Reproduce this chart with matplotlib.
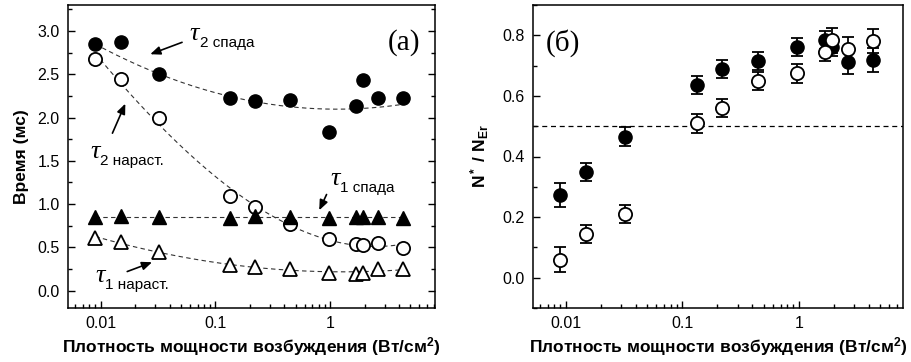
import numpy as np
import matplotlib
matplotlib.use("Agg")
import matplotlib.pyplot as plt
from matplotlib.ticker import LogLocator, FixedLocator, MultipleLocator, FuncFormatter

plt.rcParams['font.family'] = ['Liberation Sans', 'DejaVu Sans']
plt.rcParams['mathtext.fontset'] = 'custom'
plt.rcParams['mathtext.rm'] = 'Liberation Sans'
plt.rcParams['mathtext.bf'] = 'Liberation Sans:bold'
plt.rcParams['mathtext.it'] = 'Liberation Sans:italic'

# ---------------- data ----------------
power = [0.009, 0.015, 0.032, 0.135, 0.22, 0.445, 0.97, 1.68, 1.93, 2.62, 4.35]

tau2_decay = [2.85, 2.87, 2.50, 2.22, 2.19, 2.20, 1.83, 2.13, 2.43, 2.22, 2.22]
tau2_rise = [2.68, 2.45, 1.99, 1.09, 0.97, 0.77, 0.60, 0.54, 0.53, 0.55, 0.49]
tau1_decay = [0.85, 0.86, 0.85, 0.84, 0.86, 0.85, 0.84, 0.85, 0.85, 0.85, 0.84]
tau1_rise = [0.61, 0.56, 0.45, 0.30, 0.27, 0.25, 0.21, 0.19, 0.21, 0.25, 0.25]

# points read along the dashed trend curve of tau2 decay
tau2_decay_curve_x = [0.009, 0.032, 0.109, 0.297, 0.81, 1.81, 4.35]
tau2_decay_curve_y = [2.85, 2.50, 2.28, 2.15, 2.10, 2.11, 2.15]

n_filled = [0.273, 0.349, 0.466, 0.637, 0.689, 0.716, 0.762, 0.785, 0.762, 0.712, 0.718]
n_filled_err = [0.040, 0.030, 0.030, 0.030, 0.030, 0.030, 0.030, 0.030, 0.030, 0.040, 0.040]
n_open = [0.060, 0.143, 0.209, 0.509, 0.560, 0.649, 0.674, 0.746, 0.783, 0.755, 0.780]
n_open_err = [0.040, 0.030, 0.030, 0.030, 0.030, 0.030, 0.030, 0.030, 0.040, 0.040, 0.040]

xticks = [0.01, 0.1, 1]
xticklabels = ['0.01', '0.1', '1']
left_yticks = [0.0, 0.5, 1.0, 1.5, 2.0, 2.5, 3.0]
right_yticks = [0.0, 0.2, 0.4, 0.6, 0.8]
threshold = 0.5

xlabel = 'Плотность мощности возбуждения (Вт/см$^{\\mathbf{2}}$)'

# ---------------- figure ----------------
fig = plt.figure(figsize=(9.11, 3.62), dpi=100)
ax1 = fig.add_axes([68/911, 1-308/362, (435-68)/911, (308-5)/362])
ax2 = fig.add_axes([532.7/911, 1-308/362, (902.7-532.7)/911, (308-5)/362])

x = np.array(power)
u = np.log10(x)
uu = np.linspace(u.min(), u.max(), 200)
xx = 10**uu

def fitline(ax, xs, y, deg):
    c = np.polyfit(np.log10(np.array(xs)), np.array(y), deg)
    ax.plot(xx, np.polyval(c, uu), ls=(0, (4, 3)), color='#333333', lw=0.8, zorder=1)

fitline(ax1, tau2_decay_curve_x, tau2_decay_curve_y, 2)
fitline(ax1, power, tau2_rise, 3)
fitline(ax1, power, tau1_decay, 0)
fitline(ax1, power, tau1_rise, 2)

ms = 9.5
ax1.plot(x, tau2_decay, 'o', ms=ms, mfc='black', mec='black', zorder=3)
ax1.plot(x, tau2_rise, 'o', ms=ms, mfc='white', mec='black', mew=1.3, zorder=3)
ax1.plot(x, tau1_decay, '^', ms=ms+1, mfc='black', mec='black', zorder=3)
ax1.plot(x, tau1_rise, '^', ms=ms+1, mfc='white', mec='black', mew=1.3, zorder=3)

ax1.set_xscale('log')
ax1.set_xlim(0.0052, 8.2)
ax1.set_ylim(-0.2, 3.3)
ax1.yaxis.set_major_locator(FixedLocator(left_yticks))
ax1.yaxis.set_major_formatter(FuncFormatter(lambda v, p: f'{v:.1f}'))
ax1.yaxis.set_minor_locator(MultipleLocator(0.25))

ax1.set_ylabel('Время (мс)', fontsize=12.5, fontweight='bold', labelpad=6)

tau_kw = dict(fontfamily='Liberation Serif', fontstyle='italic', fontsize=19)
sub_kw = dict(fontsize=11)
arrow_kw = dict(arrowstyle='-|>,head_length=0.6,head_width=0.25', color='black', lw=1.2)

def label(ax, xt, yt, sub, xs_off=7):
    ax.text(xt, yt, 'τ', ha='left', va='baseline', **tau_kw)
    ax.annotate(sub, xy=(xt, yt), xycoords='data', xytext=(xs_off, -5),
                textcoords='offset points', ha='left', va='baseline', **sub_kw)

label(ax1, 0.060, 2.90, '2 спада')
ax1.annotate('', xy=(0.0257, 2.72), xytext=(0.054, 2.88), arrowprops=arrow_kw)
label(ax1, 0.0082, 1.53, '2 нараст.')
ax1.annotate('', xy=(0.0168, 2.19), xytext=(0.0124, 1.79), arrowprops=arrow_kw)
label(ax1, 1.0, 1.22, '1 спада')
ax1.annotate('', xy=(0.785, 0.90), xytext=(0.953, 1.14), arrowprops=arrow_kw)
label(ax1, 0.0090, 0.10, '1 нараст.')
ax1.annotate('', xy=(0.0296, 0.34), xytext=(0.0162, 0.21), arrowprops=arrow_kw)

ax1.text(0.96, 0.875, '(a)', transform=ax1.transAxes, ha='right', va='center',
         fontfamily='Liberation Serif', fontsize=21)

# right panel
ax2.axhline(threshold, ls=(0, (4, 3)), color='black', lw=0.9, zorder=1)
ax2.errorbar(x, n_filled, yerr=n_filled_err, fmt='o', ms=ms, mfc='black', mec='black',
             ecolor='black', elinewidth=1.3, capsize=4, capthick=1.3, zorder=3)
ax2.errorbar(x, n_open, yerr=n_open_err, fmt='o', ms=ms, mfc='white', mec='black', mew=1.3,
             ecolor='black', elinewidth=1.3, capsize=4, capthick=1.3, zorder=4)
ax2.set_xscale('log')
ax2.set_xlim(0.0052, 7.8)
ax2.set_ylim(-0.1, 0.9)
ax2.yaxis.set_major_locator(FixedLocator(right_yticks))
ax2.yaxis.set_major_formatter(FuncFormatter(lambda v, p: f'{v:.1f}'))
ax2.yaxis.set_minor_locator(MultipleLocator(0.1))
ax2.set_ylabel(r'$\mathbf{N^*\ /\ N_{Er}}$', fontsize=12.5, labelpad=8)
ax2.text(0.035, 0.875, '(б)', transform=ax2.transAxes, ha='left', va='center',
         fontfamily='Liberation Serif', fontsize=21)

for ax, right in ((ax1, True), (ax2, False)):
    ax.xaxis.set_major_locator(FixedLocator(xticks))
    ax.xaxis.set_major_formatter(FuncFormatter(lambda v, p: xticklabels[xticks.index(v)] if v in xticks else ''))
    ax.xaxis.set_minor_locator(LogLocator(base=10, subs=np.arange(2, 10)))
    ax.xaxis.set_minor_formatter(FuncFormatter(lambda v, p: ''))
    ax.tick_params(which='both', direction='in', top=False, right=right, labelsize=11.5, pad=6)
    ax.tick_params(which='major', length=5, width=1)
    ax.tick_params(which='minor', length=3, width=1)
    ax.set_xlabel(xlabel, fontsize=12.5, fontweight='bold', labelpad=3)
    for s in ax.spines.values():
        s.set_linewidth(1.1)

fig.savefig('out.png', dpi=100)
